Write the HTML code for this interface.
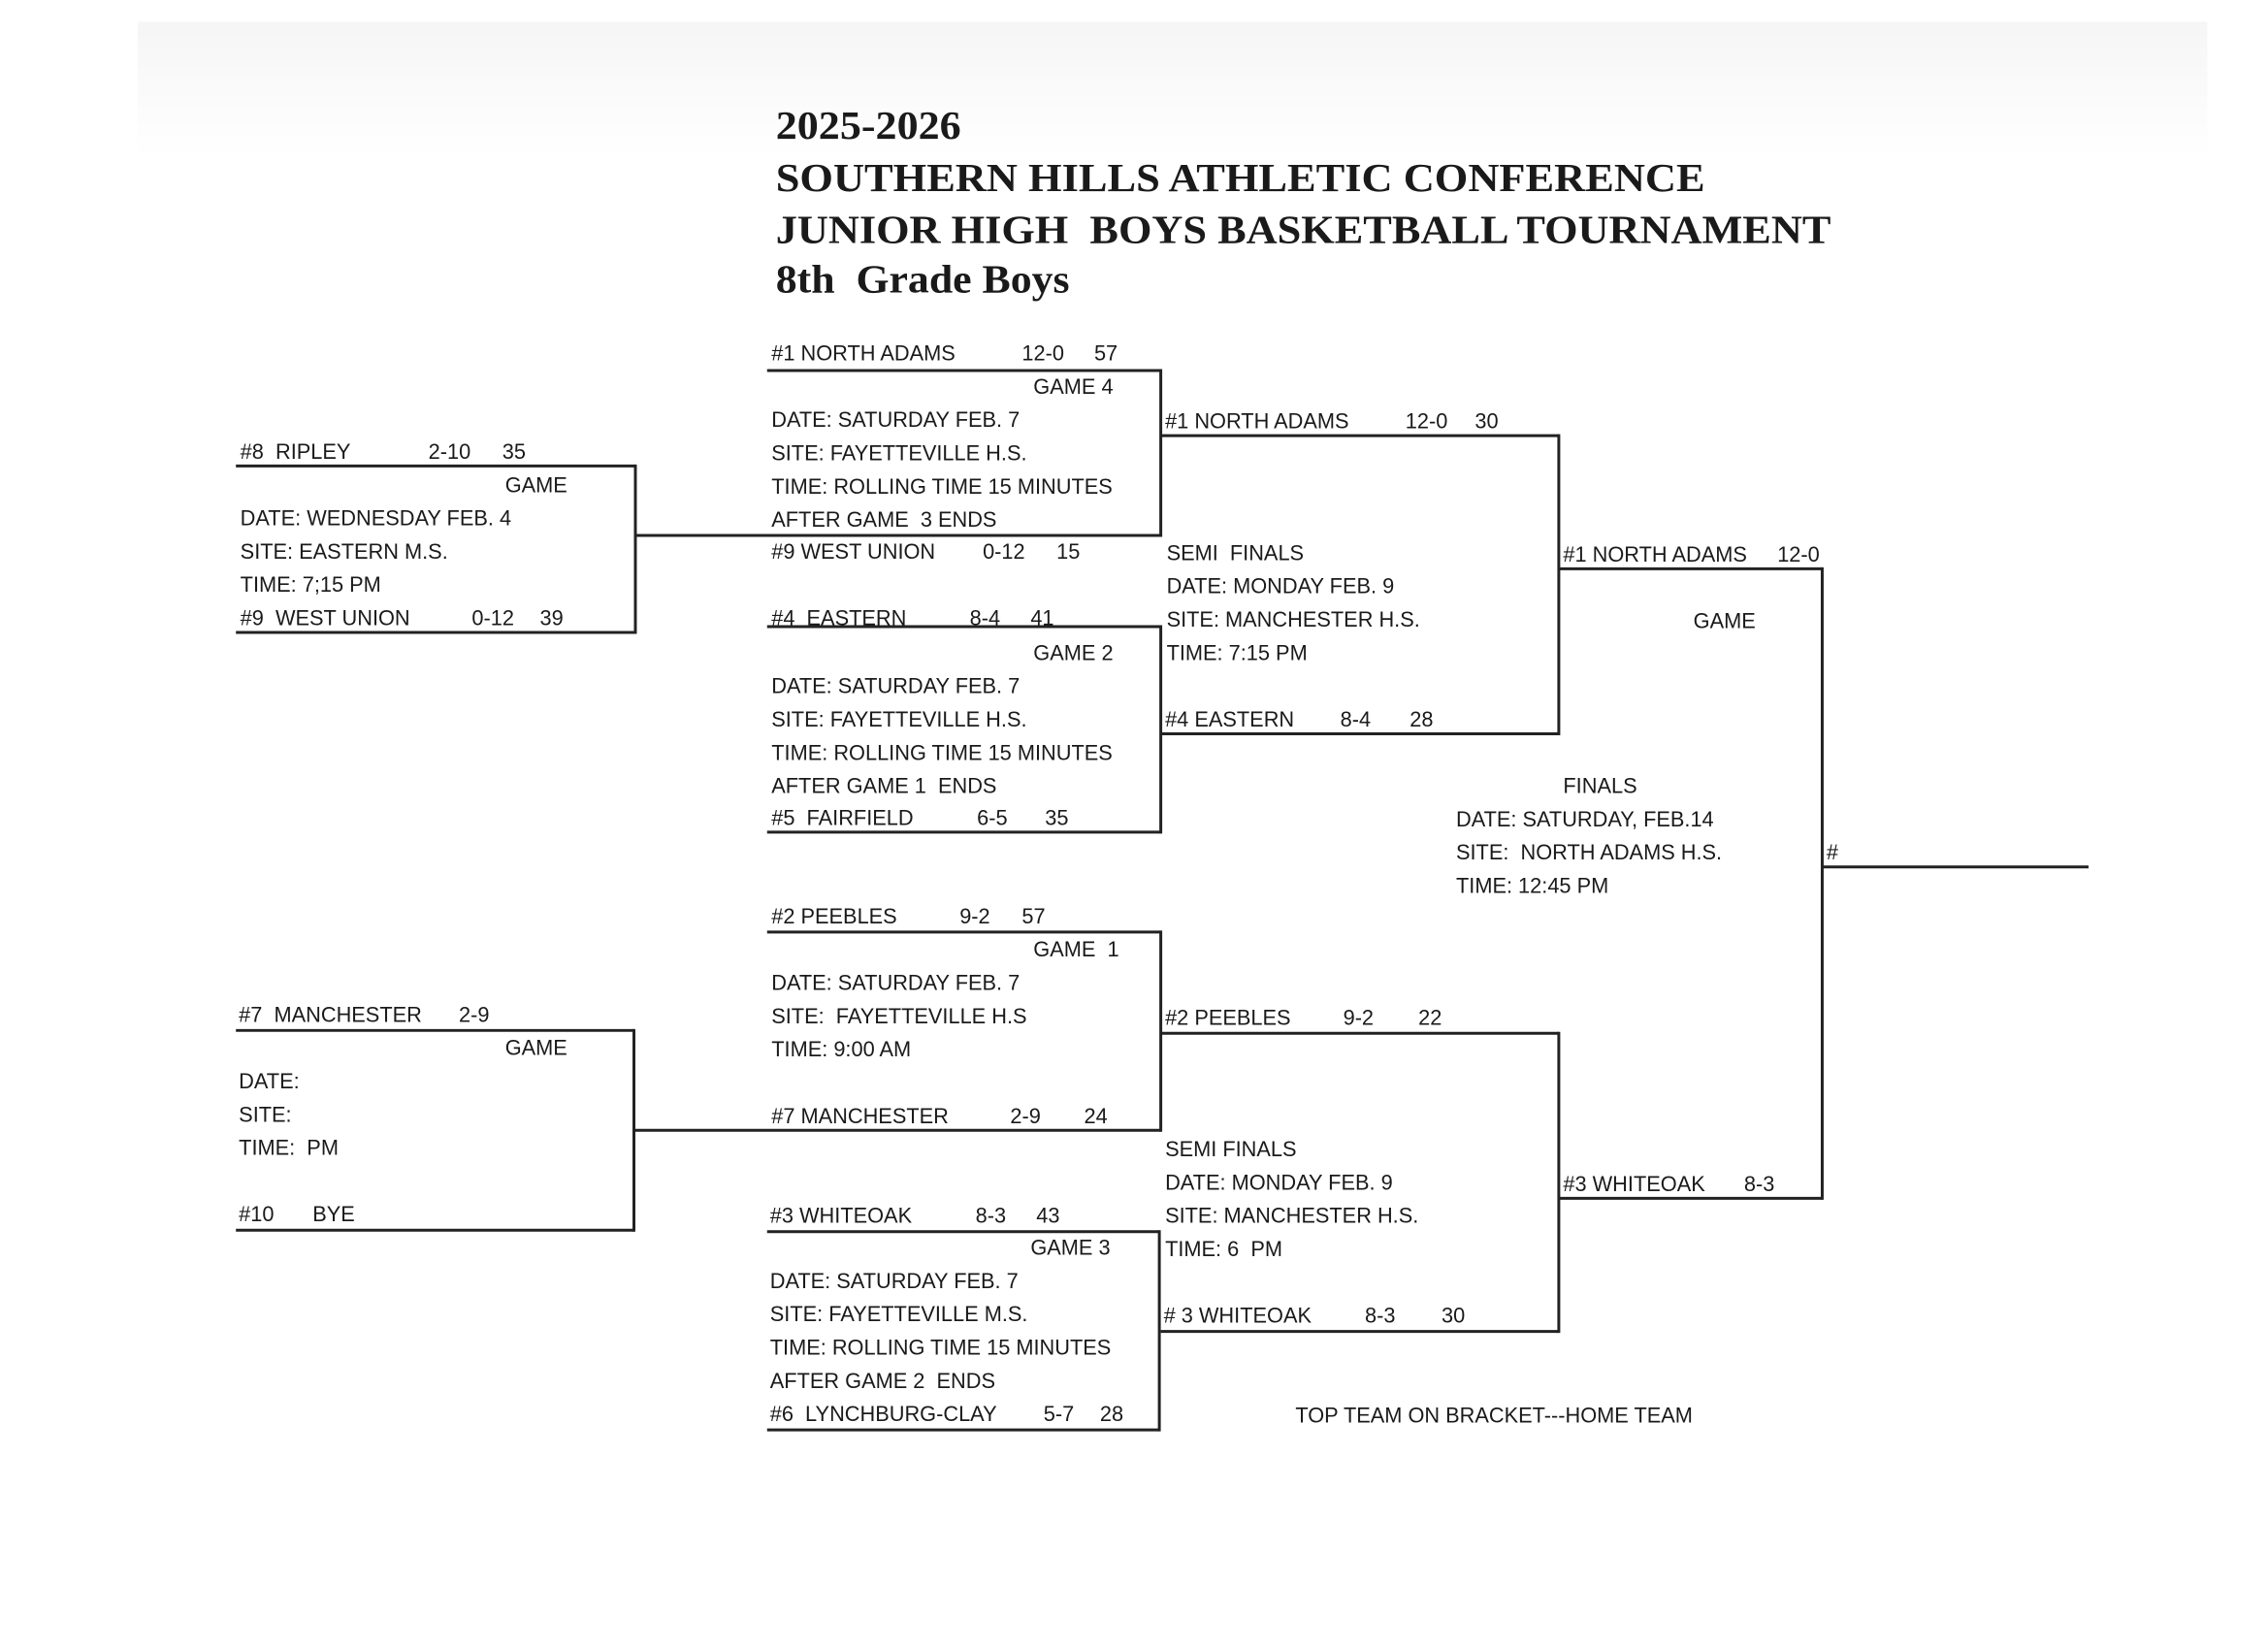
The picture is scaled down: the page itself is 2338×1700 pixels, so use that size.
<!DOCTYPE html>
<html><head><meta charset="utf-8"><style>
html,body{margin:0;padding:0;background:#fff;}
svg{display:block;}
text{white-space:pre;}
.t{font-family:"Liberation Sans",Arial,sans-serif;font-size:14.6px;fill:#1a1a1a;}
.h{font-family:"Liberation Serif","Times New Roman",serif;font-weight:bold;font-size:28px;fill:#1a1a1a;}
line{stroke:#222;stroke-width:2;}
</style></head><body>
<svg width="2338" height="1700" viewBox="0 0 1567 1139.4" preserveAspectRatio="none">
<defs><linearGradient id="g" x1="0" y1="0" x2="0" y2="1"><stop offset="0" stop-color="#ececec"/><stop offset="1" stop-color="#fff"/></linearGradient></defs>
<rect x="95" y="15" width="1430" height="95" fill="url(#g)" opacity="0.5"/>
<text class="h" x="536" y="96" textLength="128" lengthAdjust="spacingAndGlyphs">2025-2026</text>
<text class="h" x="536" y="132" textLength="642" lengthAdjust="spacingAndGlyphs">SOUTHERN HILLS ATHLETIC CONFERENCE</text>
<text class="h" x="536" y="168" textLength="729" lengthAdjust="spacingAndGlyphs">JUNIOR HIGH  BOYS BASKETBALL TOURNAMENT</text>
<text class="h" x="536" y="202" textLength="203" lengthAdjust="spacingAndGlyphs">8th  Grade Boys</text>

<line x1="163" y1="322" x2="439" y2="322"/><line x1="439" y1="321" x2="439" y2="438"/><line x1="163" y1="437" x2="439" y2="437"/>
<line x1="530" y1="256" x2="802" y2="256"/><line x1="802" y1="255" x2="802" y2="371"/><line x1="439" y1="370" x2="802" y2="370"/>
<line x1="530" y1="433" x2="802" y2="433"/><line x1="802" y1="432" x2="802" y2="576"/><line x1="530" y1="575" x2="802" y2="575"/>
<line x1="802" y1="301" x2="1077" y2="301"/><line x1="1077" y1="300" x2="1077" y2="508"/><line x1="802" y1="507" x2="1077" y2="507"/>
<line x1="1077" y1="393" x2="1259" y2="393"/><line x1="1259" y1="392" x2="1259" y2="829"/><line x1="1077" y1="828" x2="1259" y2="828"/>
<line x1="1259" y1="599" x2="1443" y2="599"/>
<line x1="530" y1="644" x2="802" y2="644"/><line x1="802" y1="643" x2="802" y2="782"/><line x1="438" y1="781" x2="802" y2="781"/>
<line x1="163" y1="712" x2="438" y2="712"/><line x1="438" y1="711" x2="438" y2="851"/><line x1="163" y1="850" x2="438" y2="850"/>
<line x1="530" y1="851" x2="801" y2="851"/><line x1="801" y1="850" x2="801" y2="989"/><line x1="530" y1="988" x2="801" y2="988"/>
<line x1="802" y1="714" x2="1077" y2="714"/><line x1="1077" y1="713" x2="1077" y2="921"/><line x1="802" y1="920" x2="1077" y2="920"/>

<g class="t">
<text x="166" y="317">#8  RIPLEY</text><text x="296" y="317">2-10</text><text x="347" y="317">35</text>
<text x="349" y="340">GAME</text>
<text x="166" y="363">DATE: WEDNESDAY FEB. 4</text>
<text x="166" y="386">SITE: EASTERN M.S.</text>
<text x="166" y="409">TIME: 7;15 PM</text>
<text x="166" y="432">#9  WEST UNION</text><text x="326" y="432">0-12</text><text x="373" y="432">39</text>

<text x="533" y="249">#1 NORTH ADAMS</text><text x="706" y="249">12-0</text><text x="756" y="249">57</text>
<text x="714" y="272">GAME 4</text>
<text x="533" y="295">DATE: SATURDAY FEB. 7</text>
<text x="533" y="318">SITE: FAYETTEVILLE H.S.</text>
<text x="533" y="341">TIME: ROLLING TIME 15 MINUTES</text>
<text x="533" y="364">AFTER GAME  3 ENDS</text>
<text x="533" y="386">#9 WEST UNION</text><text x="679" y="386">0-12</text><text x="730" y="386">15</text>

<text x="533" y="432">#4  EASTERN</text><text x="670" y="432">8-4</text><text x="712" y="432">41</text>
<text x="714" y="456">GAME 2</text>
<text x="533" y="479">DATE: SATURDAY FEB. 7</text>
<text x="533" y="502">SITE: FAYETTEVILLE H.S.</text>
<text x="533" y="525">TIME: ROLLING TIME 15 MINUTES</text>
<text x="533" y="548">AFTER GAME 1  ENDS</text>
<text x="533" y="570">#5  FAIRFIELD</text><text x="675" y="570">6-5</text><text x="722" y="570">35</text>

<text x="805" y="296">#1 NORTH ADAMS</text><text x="971" y="296">12-0</text><text x="1019" y="296">30</text>
<text x="806" y="387">SEMI  FINALS</text>
<text x="806" y="410">DATE: MONDAY FEB. 9</text>
<text x="806" y="433">SITE: MANCHESTER H.S.</text>
<text x="806" y="456">TIME: 7:15 PM</text>
<text x="805" y="502">#4 EASTERN</text><text x="926" y="502">8-4</text><text x="974" y="502">28</text>

<text x="1080" y="388">#1 NORTH ADAMS</text><text x="1228" y="388">12-0</text>
<text x="1170" y="434">GAME</text>
<text x="1080" y="548">FINALS</text>
<text x="1006" y="571">DATE: SATURDAY, FEB.14</text>
<text x="1006" y="594">SITE:  NORTH ADAMS H.S.</text>
<text x="1006" y="617">TIME: 12:45 PM</text>
<text x="1262" y="594">#</text>
<text x="1080" y="823">#3 WHITEOAK</text><text x="1205" y="823">8-3</text>

<text x="533" y="638">#2 PEEBLES</text><text x="663" y="638">9-2</text><text x="706" y="638">57</text>
<text x="714" y="661">GAME  1</text>
<text x="533" y="684">DATE: SATURDAY FEB. 7</text>
<text x="533" y="707">SITE:  FAYETTEVILLE H.S</text>
<text x="533" y="730">TIME: 9:00 AM</text>
<text x="533" y="776">#7 MANCHESTER</text><text x="698" y="776">2-9</text><text x="749" y="776">24</text>

<text x="165" y="706">#7  MANCHESTER</text><text x="317" y="706">2-9</text>
<text x="349" y="729">GAME</text>
<text x="165" y="752">DATE:</text>
<text x="165" y="775">SITE:</text>
<text x="165" y="798">TIME:  PM</text>
<text x="165" y="844">#10</text><text x="216" y="844">BYE</text>

<text x="805" y="708">#2 PEEBLES</text><text x="928" y="708">9-2</text><text x="980" y="708">22</text>
<text x="805" y="799">SEMI FINALS</text>
<text x="805" y="822">DATE: MONDAY FEB. 9</text>
<text x="805" y="845">SITE: MANCHESTER H.S.</text>
<text x="805" y="868">TIME: 6  PM</text>
<text x="804" y="914"># 3 WHITEOAK</text><text x="943" y="914">8-3</text><text x="996" y="914">30</text>

<text x="532" y="845">#3 WHITEOAK</text><text x="674" y="845">8-3</text><text x="716" y="845">43</text>
<text x="712" y="867">GAME 3</text>
<text x="532" y="890">DATE: SATURDAY FEB. 7</text>
<text x="532" y="913">SITE: FAYETTEVILLE M.S.</text>
<text x="532" y="936">TIME: ROLLING TIME 15 MINUTES</text>
<text x="532" y="959">AFTER GAME 2  ENDS</text>
<text x="532" y="982">#6  LYNCHBURG-CLAY</text><text x="721" y="982">5-7</text><text x="760" y="982">28</text>

<text x="895" y="983">TOP TEAM ON BRACKET---HOME TEAM</text>
</g>
</svg>
</body></html>
